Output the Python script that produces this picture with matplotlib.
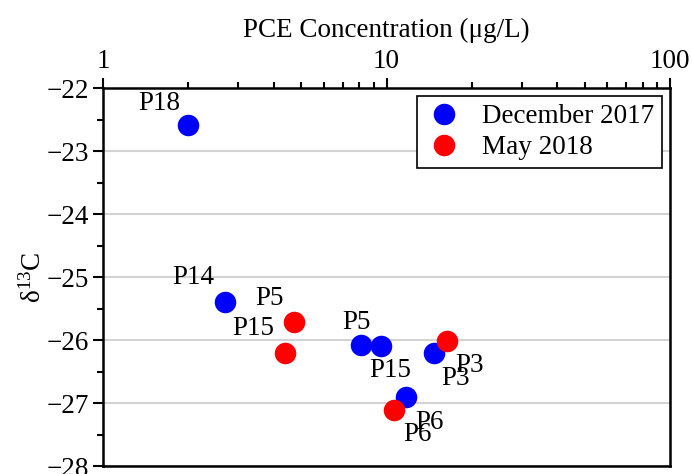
import matplotlib
matplotlib.use("Agg")
import matplotlib.pyplot as plt
from matplotlib.ticker import FixedLocator, FuncFormatter, MultipleLocator, LogLocator, NullFormatter

plt.rcParams['font.family'] = ['Liberation Serif', 'DejaVu Serif']
plt.rcParams['mathtext.fontset'] = 'custom'
plt.rcParams['mathtext.rm'] = 'Liberation Serif'
plt.rcParams['mathtext.it'] = 'Liberation Serif:italic'

FS = 19.5

# December 2017 samples
dec_wells = ['P18', 'P14', 'P5', 'P15', 'P3', 'P6']
dec_pce = [1.99, 2.70, 8.1, 9.55, 14.7, 11.7]
dec_d13c = [-22.59, -25.39, -26.08, -26.1, -26.21, -26.91]

# May 2018 samples
may_wells = ['P5', 'P15', 'P3', 'P6']
may_pce = [4.72, 4.37, 16.3, 10.6]
may_d13c = [-25.71, -26.2, -26.02, -27.11]

# label offsets in pixels (style only)
dec_off = [(-28, 22), (-32, 24), (-4, 23), (9, -24), (22, -25), (24, -25)]
may_off = [(-25, 23), (-31, 24), (23, -24), (24, -25)]

fig = plt.figure(figsize=(6.92, 4.74), dpi=100)
ax = fig.add_axes([103/692, 1-466/474, (670-103)/692, (466-88)/474])

ax.set_xscale('log')
ax.set_xlim(1, 100)
ax.set_ylim(-28, -22)

ax.yaxis.set_major_locator(MultipleLocator(1))
ax.yaxis.set_minor_locator(MultipleLocator(0.5))
ax.grid(axis='y', which='major', color='#d3d3d3', lw=1.5, zorder=0)
ax.set_axisbelow(True)

ax.plot(dec_pce, dec_d13c, 'o', color='#0000ff', ms=15.5, mec='none',
        label='December 2017', zorder=3)
ax.plot(may_pce, may_d13c, 'o', color='#ff0000', ms=15.5, mec='none',
        label='May 2018', zorder=4)

for w, x, y, o in zip(dec_wells, dec_pce, dec_d13c, dec_off):
    ax.annotate(w, (x, y), xytext=o, textcoords='offset pixels',
                ha='center', va='center', fontsize=FS, zorder=5)
for w, x, y, o in zip(may_wells, may_pce, may_d13c, may_off):
    ax.annotate(w, (x, y), xytext=o, textcoords='offset pixels',
                ha='center', va='center', fontsize=FS, zorder=5)

ax.xaxis.tick_top()
ax.xaxis.set_label_position('top')
ax.xaxis.set_major_locator(FixedLocator([1, 10, 100]))
ax.xaxis.set_major_formatter(FuncFormatter(lambda v, p: '%d' % v))
ax.xaxis.set_minor_locator(LogLocator(base=10, subs=range(2, 10)))
ax.xaxis.set_minor_formatter(NullFormatter())
ax.set_xlabel('PCE Concentration (μg/L)', fontsize=FS, labelpad=9)
ax.set_ylabel('δ$^{13}$C', fontsize=FS, labelpad=0)

ax.tick_params(axis='both', which='major', direction='out', length=7,
               width=1.5, labelsize=FS, pad=3)
ax.tick_params(axis='both', which='minor', direction='out', length=4, width=1.5)
ax.tick_params(axis='y', right=False)
ax.tick_params(axis='x', bottom=False, which='both')

for s in ax.spines.values():
    s.set_linewidth(1.8)
    s.set_color('black')

leg = ax.legend(loc='upper right', fontsize=FS, frameon=True, fancybox=False,
                edgecolor='black', framealpha=1, borderpad=0.3,
                handlelength=1.4, handletextpad=0.7, labelspacing=0.22,
                borderaxespad=0.3)
leg.get_frame().set_linewidth(1.2)

fig.savefig('out.png', dpi=100)
